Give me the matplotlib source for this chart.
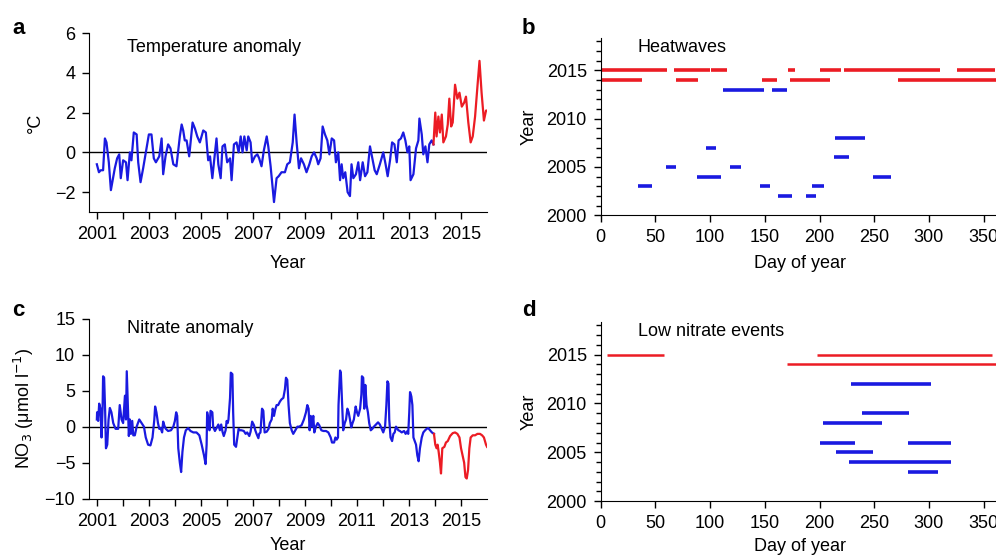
import matplotlib
matplotlib.use('Agg')
import matplotlib.pyplot as plt
from matplotlib.ticker import MultipleLocator

plt.rcParams['font.family'] = ['Liberation Sans', 'DejaVu Sans']
plt.rcParams['font.size'] = 13

BLUE = '#1a1ae0'
RED = '#ec1c24'

# a: temperature anomaly (deg C), blue up to 2014, red after
temp_t = [2001.00, 2001.08, 2001.15, 2001.24, 2001.31, 2001.37, 2001.46, 2001.54, 2001.69, 2001.78,
          2001.86, 2001.92, 2002.01, 2002.12, 2002.18, 2002.27, 2002.33, 2002.42, 2002.53, 2002.59,
          2002.68, 2002.78, 2002.91, 2003.00, 2003.10, 2003.19, 2003.27, 2003.40, 2003.49, 2003.55,
          2003.64, 2003.74, 2003.83, 2003.94, 2004.06, 2004.19, 2004.26, 2004.32, 2004.38, 2004.45,
          2004.55, 2004.68, 2004.77, 2004.86, 2004.96, 2005.09, 2005.19, 2005.28, 2005.35, 2005.44,
          2005.51, 2005.60, 2005.67, 2005.76, 2005.83, 2005.92, 2006.01, 2006.12, 2006.18, 2006.27,
          2006.37, 2006.45, 2006.53, 2006.60, 2006.67, 2006.76, 2006.82, 2006.91, 2006.97, 2007.08,
          2007.17, 2007.24, 2007.33, 2007.42, 2007.53, 2007.59, 2007.68, 2007.76, 2007.81, 2007.91,
          2007.99, 2008.10, 2008.23, 2008.32, 2008.42, 2008.53, 2008.60, 2008.68, 2008.77, 2008.85,
          2008.96, 2009.06, 2009.17, 2009.26, 2009.35, 2009.45, 2009.51, 2009.60, 2009.68, 2009.77,
          2009.86, 2009.94, 2010.03, 2010.12, 2010.19, 2010.28, 2010.35, 2010.41, 2010.47, 2010.55,
          2010.64, 2010.73, 2010.79, 2010.86, 2010.96, 2011.05, 2011.12, 2011.22, 2011.31, 2011.40,
          2011.50, 2011.59, 2011.68, 2011.76, 2011.88, 2012.01, 2012.10, 2012.18, 2012.27, 2012.35,
          2012.44, 2012.53, 2012.60, 2012.69, 2012.78, 2012.86, 2012.94, 2013.01, 2013.06, 2013.17,
          2013.27, 2013.36, 2013.40, 2013.49, 2013.55, 2013.63, 2013.71, 2013.78, 2013.87, 2013.94]
temp_v = [-0.6, -1.0, -0.9, -0.9, 0.7, 0.5, -0.5, -1.9, -0.8, -0.3,
          -0.1, -1.3, -0.4, -0.5, -1.4, 0.0, -0.4, 1.0, 0.9, -0.5,
          -1.5, -0.8, 0.2, 0.9, 0.9, -0.3, -0.5, -0.2, 0.7, -1.1,
          -0.2, 0.4, 0.2, -0.6, -0.7, 0.8, 1.4, 1.1, 0.6, 0.6,
          -0.2, 1.5, 1.2, 0.8, 0.5, 1.1, 1.0, -0.4, -0.2, -1.3,
          -0.4, 0.7, -0.6, -1.3, 0.3, 0.4, -0.5, -0.3, -1.4, 0.4,
          0.5, 0.0, 0.8, 0.0, 0.8, 0.1, 0.8, 0.5, -0.5, -0.2,
          -0.1, -0.3, -0.7, 0.1, 0.8, 0.3, -0.7, -1.8, -2.5, -1.3,
          -1.2, -1.0, -1.0, -0.6, -0.5, 0.5, 1.9, 0.5, -0.8, -0.3,
          -0.6, -1.0, -0.6, -0.2, 0.0, -0.3, -0.6, -0.3, 1.3, 0.9,
          0.6, -0.1, 0.7, 0.6, -0.5, 0.0, -1.4, -0.6, -1.3, -1.0,
          -2.0, -2.2, -0.6, -1.3, -1.1, -0.5, -1.4, -0.5, -1.2, -1.0,
          0.3, -0.3, -0.9, -1.1, -0.6, 0.0, -0.6, -1.2, -0.4, 0.5,
          0.4, -0.5, 0.6, 0.7, 1.0, 0.6, 0.0, 0.3, -1.4, -1.1,
          0.2, 0.6, 1.7, 0.9, -0.1, 0.3, -0.5, 0.4, 0.6, 0.4]
temp_red_t = [2014.01, 2014.06, 2014.13, 2014.19, 2014.26, 2014.32, 2014.42, 2014.49, 2014.55, 2014.62,
              2014.68, 2014.77, 2014.86, 2014.94, 2015.03, 2015.12, 2015.19, 2015.28, 2015.37, 2015.45,
              2015.54, 2015.63, 2015.71, 2015.79, 2015.88, 2015.96, 2016.01]
temp_red_v = [2.0, 0.8, 1.8, 1.0, 1.9, 0.5, 0.8, 1.4, 2.7, 1.3,
              1.5, 3.4, 2.7, 3.0, 2.3, 2.5, 2.8, 1.5, 0.5, 0.8,
              1.8, 3.3, 4.6, 3.0, 1.6, 2.1, 2.1]

# c: nitrate anomaly (umol/l)
no3_t = [2001.00, 2001.01, 2001.05, 2001.09, 2001.14, 2001.18, 2001.22, 2001.24, 2001.28, 2001.32,
         2001.35, 2001.40, 2001.45, 2001.50, 2001.56, 2001.63, 2001.72, 2001.82, 2001.88, 2001.95,
         2002.01, 2002.08, 2002.12, 2002.15, 2002.19, 2002.23, 2002.27, 2002.31, 2002.36, 2002.40,
         2002.46, 2002.53, 2002.63, 2002.72, 2002.81, 2002.88, 2002.97, 2003.06, 2003.14, 2003.21,
         2003.24, 2003.29, 2003.35, 2003.40, 2003.45, 2003.51, 2003.55, 2003.60, 2003.65, 2003.74,
         2003.85, 2003.94, 2004.00, 2004.05, 2004.09, 2004.13, 2004.19, 2004.24, 2004.29, 2004.35,
         2004.42, 2004.51, 2004.60, 2004.71, 2004.83, 2004.94, 2005.03, 2005.12, 2005.18, 2005.22,
         2005.24, 2005.29, 2005.33, 2005.37, 2005.44, 2005.47, 2005.54, 2005.60, 2005.67, 2005.73,
         2005.78, 2005.83, 2005.88, 2005.95, 2005.99, 2006.03, 2006.06, 2006.12, 2006.15, 2006.21,
         2006.24, 2006.28, 2006.35, 2006.40, 2006.45, 2006.50, 2006.56, 2006.65, 2006.72, 2006.78,
         2006.86, 2006.91, 2006.97, 2007.04, 2007.09, 2007.14, 2007.21, 2007.24, 2007.29, 2007.35,
         2007.40, 2007.45, 2007.53, 2007.60, 2007.65, 2007.72, 2007.76, 2007.81, 2007.86, 2007.91,
         2007.97, 2008.04, 2008.10, 2008.17, 2008.23, 2008.27, 2008.32, 2008.37, 2008.42, 2008.49,
         2008.55, 2008.63, 2008.71, 2008.78, 2008.87, 2008.96, 2009.04, 2009.09, 2009.14, 2009.18,
         2009.22, 2009.27, 2009.32, 2009.36, 2009.42, 2009.49, 2009.55, 2009.63, 2009.71, 2009.81,
         2009.90, 2009.99, 2010.04, 2010.12, 2010.17, 2010.22, 2010.27, 2010.29, 2010.35, 2010.38,
         2010.44, 2010.47, 2010.53, 2010.58, 2010.63, 2010.68, 2010.73, 2010.78, 2010.83, 2010.88,
         2010.95, 2011.00, 2011.05, 2011.12, 2011.17, 2011.19, 2011.24, 2011.28, 2011.32, 2011.37,
         2011.42, 2011.47, 2011.53, 2011.59, 2011.65, 2011.73, 2011.81, 2011.88, 2011.95, 2012.01,
         2012.08, 2012.13, 2012.17, 2012.21, 2012.24, 2012.29, 2012.35, 2012.40, 2012.45, 2012.50,
         2012.59, 2012.65, 2012.72, 2012.81, 2012.87, 2012.94, 2012.97, 2013.01, 2013.04, 2013.09,
         2013.13, 2013.17, 2013.22, 2013.27, 2013.32, 2013.37, 2013.42, 2013.49, 2013.55, 2013.62,
         2013.68, 2013.74, 2013.81, 2013.88, 2013.96]
no3_v = [1.0, 2.0, 0.8, 3.2, 2.5, -1.5, 2.5, 7.0, 6.8, 2.0,
         -3.0, -2.5, 1.0, 2.6, 2.0, 0.5, -0.3, -0.3, 3.0, 1.0,
         0.5, 4.3, 1.0, 7.7, 3.0, -1.3, 1.0, -1.0, 0.8, -1.2,
         -1.2, 0.0, 1.0, 0.5, 0.0, -1.5, -2.5, -2.6, -1.5, 1.0,
         2.8, 2.0, 0.5, -0.3, -0.2, -0.8, 0.7, 0.1, -0.3, -0.6,
         -0.5, 0.0, 0.8, 2.0, 1.5, -3.0, -5.0, -6.3, -3.5, -1.5,
         -0.5, -0.2, -0.6, -0.8, -0.8, -1.2, -2.5, -4.0, -5.2, -2.5,
         2.0, 1.0, -0.5, 2.2, 2.0, 0.0, -0.6, -0.2, 0.3, -0.5,
         0.3, -0.7, -1.3, -0.5, 0.8, 0.5, 1.0, 4.0, 7.5, 7.3,
         2.0, -2.5, -2.8, -1.5, -0.3, -0.5, -0.5, -0.6, -1.0, -0.8,
         -1.3, -0.7, 0.7, 0.2, -0.5, -1.0, -1.6, -1.0, -0.8, 2.5,
         2.2, -0.8, -0.7, -0.3, 0.5, 1.0, 2.5, 1.5, 2.4, 3.0,
         3.0, 3.5, 3.8, 4.0, 5.2, 6.8, 6.5, 3.0, 0.5, -0.5,
         -1.0, -0.5, 0.0, 0.0, 0.2, 1.0, 2.0, 3.0, 2.5, -0.5,
         1.5, 0.0, 1.5, -0.8, 0.0, 0.5, 0.2, -0.5, -0.6, -0.6,
         -0.8, -1.5, -2.2, -2.2, -1.5, -1.8, -1.5, 3.0, 7.8, 7.5,
         2.0, -0.5, 0.5, 1.0, 2.5, 2.0, 1.0, -0.1, 0.5, 1.0,
         2.8, 2.0, 1.5, 2.5, 4.5, 7.0, 6.8, 2.5, 5.8, 3.0,
         2.0, 0.5, -0.5, -0.3, 0.0, 0.3, 0.6, 0.3, -0.3, -0.8,
         0.0, 3.0, 6.3, 6.0, 1.0, -1.5, -2.0, -1.0, -0.8, 0.0,
         -0.5, -0.6, -0.8, -0.6, -1.0, -0.6, -1.0, 2.0, 4.8, 4.2,
         3.0, -1.5, -2.0, -2.5, -4.0, -4.8, -3.0, -1.5, -0.8, -0.5,
         -0.3, -0.2, -0.5, -0.8, -1.0]
no3_red_t = [2014.01, 2014.06, 2014.10, 2014.14, 2014.19, 2014.23, 2014.28, 2014.36, 2014.42, 2014.49,
             2014.58, 2014.68, 2014.77, 2014.86, 2014.94, 2015.00, 2015.06, 2015.12, 2015.17, 2015.22,
             2015.27, 2015.32, 2015.37, 2015.45, 2015.54, 2015.63, 2015.73, 2015.81, 2015.88, 2015.96,
             2016.00]
no3_red_v = [-2.5, -3.0, -2.5, -3.5, -5.0, -6.5, -3.0, -2.8, -2.2, -2.0,
             -1.3, -0.9, -0.8, -1.0, -1.5, -3.0, -4.0, -5.0, -7.0, -7.2,
             -6.0, -3.0, -1.5, -1.2, -1.2, -1.0, -1.0, -1.2, -1.5, -2.5,
             -2.8]

# b: heatwaves (year, start day, end day)
hw_year = [2015, 2015, 2015, 2015, 2015, 2015, 2015,
           2014, 2014, 2014, 2014, 2014,
           2013, 2013, 2013,
           2008, 2007, 2006, 2005, 2005, 2004, 2004,
           2003, 2003, 2003, 2002, 2002]
hw_start = [0, 67, 101, 171, 200, 222, 326,
            0, 69, 147, 173, 272,
            112, 157, 361,
            214, 96, 213, 60, 118, 88, 249,
            34, 146, 193, 162, 188]
hw_end = [61, 100, 115, 178, 220, 310, 360,
          38, 89, 161, 210, 365,
          149, 170, 365,
          242, 105, 227, 69, 128, 110, 265,
          47, 155, 204, 175, 197]

# d: low nitrate events
ln_year = [2015, 2015, 2014, 2012, 2009, 2008, 2006, 2006, 2005, 2004, 2003]
ln_start = [6, 198, 170, 229, 239, 203, 200, 281, 215, 227, 281]
ln_end = [58, 358, 365, 302, 282, 257, 232, 320, 249, 320, 308]

fig = plt.figure(figsize=(9.96, 5.55), dpi=100)

ax_a = fig.add_axes([0.0894, 0.618, 0.3996, 0.3225])
ax_b = fig.add_axes([0.6031, 0.612, 0.401, 0.319])
ax_c = fig.add_axes([0.0894, 0.1015, 0.3996, 0.3243])
ax_d = fig.add_axes([0.6031, 0.0968, 0.401, 0.3225])


def style(ax):
    ax.spines['top'].set_visible(False)
    ax.spines['right'].set_visible(False)
    ax.tick_params(which='major', direction='out', length=5, width=1, pad=5)
    ax.tick_params(which='minor', direction='out', length=3.5, width=1)


def year_axis(ax, pad):
    ax.set_xlim(2000.7, 2016.0)
    ax.set_xticks(range(2001, 2016))
    ax.set_xticklabels([str(y) if y % 2 == 1 else '' for y in range(2001, 2016)])
    ax.set_xlabel('Year', labelpad=pad)
    ax.axhline(0, color='black', lw=1)


# panel a
style(ax_a)
year_axis(ax_a, 9)
ax_a.plot(temp_t, temp_v, color=BLUE, lw=1.6)
ax_a.plot([temp_t[-1]] + temp_red_t, [temp_v[-1]] + temp_red_v, color=RED, lw=1.6)
ax_a.set_ylim(-3, 6)
ax_a.set_yticks([-2, 0, 2, 4, 6])
ax_a.set_ylabel('°C', labelpad=8)
ax_a.text(0.095, 0.92, 'Temperature anomaly', transform=ax_a.transAxes, va='center')

# panel c
style(ax_c)
year_axis(ax_c, 5)
ax_c.plot(no3_t, no3_v, color=BLUE, lw=1.6)
ax_c.plot([no3_t[-1]] + no3_red_t, [no3_v[-1]] + no3_red_v, color=RED, lw=1.6)
ax_c.set_ylim(-10, 15)
ax_c.set_yticks([-10, -5, 0, 5, 10, 15])
ax_c.set_ylabel('NO$_3$ (μmol l$^{-1}$)', labelpad=6)
ax_c.text(0.095, 0.948, 'Nitrate anomaly', transform=ax_c.transAxes, va='center')


def event_axis(ax, years, starts, ends, lw_red, lw_blue, title, pad):
    style(ax)
    for y, s, e in zip(years, starts, ends):
        red = y >= 2014
        ax.hlines(y, s, e, color=RED if red else BLUE, lw=lw_red if red else lw_blue)
    ax.set_xlim(0, 365)
    ax.set_ylim(2000, 2018.3)
    ax.set_xticks(range(0, 351, 50))
    ax.set_yticks([2000, 2005, 2010, 2015])
    ax.yaxis.set_minor_locator(MultipleLocator(1))
    ax.set_xlabel('Day of year', labelpad=pad)
    ax.set_ylabel('Year', labelpad=6)
    ax.text(0.093, 0.95, title, transform=ax.transAxes, va='center')


event_axis(ax_b, hw_year, hw_start, hw_end, 2.6, 2.6, 'Heatwaves', 6)
event_axis(ax_d, ln_year, ln_start, ln_end, 1.8, 2.6, 'Low nitrate events', 4)

for label, x, y in [('a', 0.012, 0.948), ('b', 0.524, 0.948), ('c', 0.012, 0.44), ('d', 0.524, 0.44)]:
    fig.text(x, y, label, fontsize=16, fontweight='bold', va='center')

fig.savefig('out.png', dpi=100)
